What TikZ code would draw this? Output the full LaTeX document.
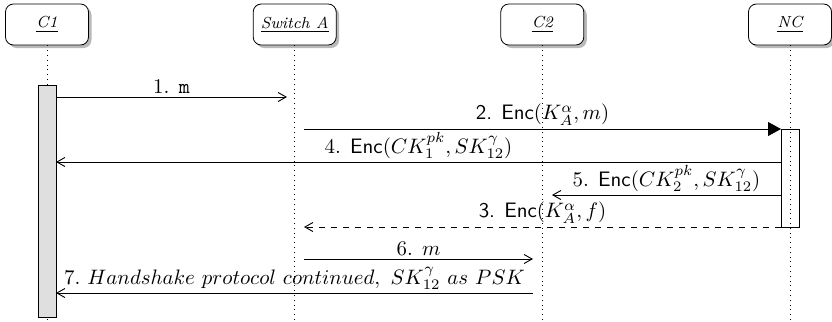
\documentclass[tikz,border=0pt]{standalone}
\usetikzlibrary{arrows.meta,shadows}
\begin{document}
\begin{tikzpicture}[x=0.5pt,y=-0.5pt,
  inst/.style={draw, rounded corners=4pt, fill=white, minimum width=41.5pt,
    minimum height=20.5pt, inner sep=0pt, font=\footnotesize\itshape,
    drop shadow={shadow xshift=1.5pt,shadow yshift=-1.5pt,fill=black!55}},
  life/.style={dotted, line width=0.4pt},
  msg/.style={line width=0.45pt, -{Straight Barb[length=4pt,width=4.5pt]}},
  syncmsg/.style={line width=0.45pt, -{Triangle[length=6.5pt,width=7pt]}},
  lbl/.style={above, inner sep=1.4pt, font=\normalsize, scale=1.045, transform shape},
  actbar/.style={draw, line width=0.45pt, inner sep=0pt, anchor=north}]
\useasboundingbox (0,0) rectangle (832,322);

% instances
\node[inst] (c1) at (47,24.5) {\underline{C1}};
\node[inst] (sw) at (294.7,24.5) {\underline{Switch A}};
\node[inst] (c2) at (542.3,24.5) {\underline{C2}};
\node[inst] (nc) at (790,24.5) {\underline{NC}};

% lifeline ends
\coordinate (c1e) at (47,322);
\coordinate (swe) at (294.7,322);
\coordinate (c2e) at (542.3,322);
\coordinate (nce) at (790,322);

\draw[life] (c1.south) -- (c1e);
\draw[life] (sw.south) -- (swe);
\draw[life] (c2.south) -- (c2e);

% activation bars
\node[actbar, fill=gray!25, minimum width=8.75pt, minimum height=116pt] (c1bar) at (47.25,85) {};
\node[actbar, minimum width=9pt, minimum height=49pt] (ncbar) at (790,129) {};
\draw[life] (nc.south) -- (nce);

% message end points
\coordinate (m1a) at (56,97);   \coordinate (m1b) at (287,97);
\coordinate (m2a) at (304,129); \coordinate (m2b) at (781,129);
\coordinate (m4a) at (781,162); \coordinate (m4b) at (56,162);
\coordinate (m5a) at (781,195); \coordinate (m5b) at (552,195);
\coordinate (m3a) at (781,227); \coordinate (m3b) at (304,227);
\coordinate (m6a) at (304,259); \coordinate (m6b) at (533,259);
\coordinate (m7a) at (533,293); \coordinate (m7b) at (56,293);

% messages
\draw[msg] (m1a) -- node[lbl]{1. \texttt{m}} (m1b);
\draw[syncmsg] (m2a) -- node[lbl]{\textsf{2. Enc}$(K_A^{\alpha}, m)$} (m2b);
\draw[msg] (m4a) -- node[lbl]{4. \textsf{Enc}$(CK_1^{pk}, SK_{12}^{\gamma})$} (m4b);
\draw[msg] (m5a) -- node[lbl]{5. \textsf{Enc}$(CK_2^{pk}, SK_{12}^{\gamma})$} (m5b);
\draw[msg, dashed] (m3a) -- node[lbl]{\textsf{3. Enc}$(K_A^{\alpha}, f)$} (m3b);
\draw[msg] (m6a) -- node[lbl]{6. $m$} (m6b);
\draw[msg] (m7a) -- node[lbl]{$7.\ Handshake\ protocol\ continued,\ SK_{12}^{\gamma}\ as\ PSK$} (m7b);
\end{tikzpicture}
\end{document}
